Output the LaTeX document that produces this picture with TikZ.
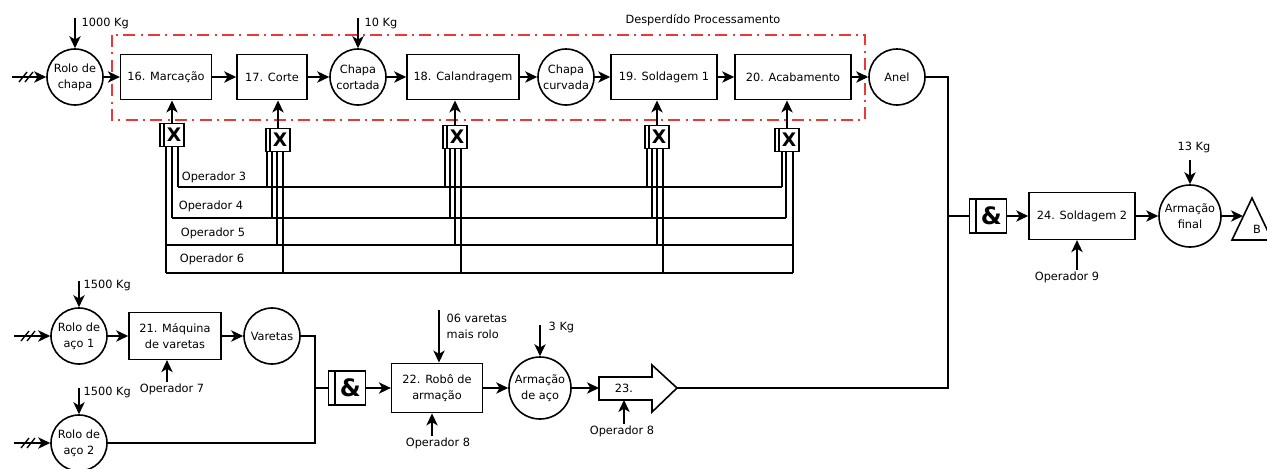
\documentclass[tikz,border=0pt]{standalone}
\usepackage{fontspec}
\setmainfont{DejaVu Sans}
\usetikzlibrary{arrows.meta}
\definecolor{wastered}{RGB}{232,56,56}

\begin{document}
\begin{tikzpicture}[x=0.75pt,y=-0.75pt,
  every node/.style={font=\fontsize{8.5}{12}\selectfont},
  proc/.style={draw,line width=1.2pt,minimum height=34pt,inner sep=1pt,align=center},
  stock/.style={draw,circle,line width=1.2pt,minimum size=42pt,inner sep=0.5pt,align=center},
  flow/.style={line width=1.1pt,-{Stealth[length=9pt,width=8.5pt,inset=2.5pt]}},
  wire/.style={line width=1pt},
  oplabel/.style={inner sep=1pt},
  hub/.style={draw,line width=1.1pt,minimum width=18pt,minimum height=17pt,inner sep=0pt,
    font=\bfseries\fontsize{14}{14}\selectfont,
    path picture={\draw[line width=0.9pt] ([xshift=3pt]path picture bounding box.north west)
      -- ([xshift=3pt]path picture bounding box.south west);}},
  gate/.style={draw,line width=1.1pt,minimum width=28pt,minimum height=25.5pt,inner sep=0pt,
    font=\bfseries\fontsize{18}{18}\selectfont,
    path picture={\draw[line width=0.9pt] ([xshift=5pt]path picture bounding box.north west)
      -- ([xshift=5pt]path picture bounding box.south west);}},
  waste/.style={draw=wastered,line width=1.1pt,dash pattern=on 9pt off 4pt on 1.5pt off 4pt}]
  \useasboundingbox (0,0) rectangle (1267,468);

  % linha da chapa
  \node[stock] (rolochapa) at (75,77) {Rolo de\\chapa};
  \node[proc,minimum width=68pt] (m16) at (166,77) {16. Marcação};
  \node[proc,minimum width=52.5pt] (c17) at (272,77) {17. Corte};
  \node[stock] (cortada) at (358,77) {Chapa\\cortada};
  \node[proc,minimum width=84pt] (cal18) at (463,77) {18. Calandragem};
  \node[stock] (curvada) at (566,77) {Chapa\\curvada};
  \node[proc,minimum width=79.5pt] (sold19) at (664,77) {19. Soldagem 1};
  \node[proc,minimum width=87pt] (acab20) at (793,77) {20. Acabamento};
  \node[stock] (anel) at (897,77) {Anel};

  \draw[waste] (112,35) rectangle (865,120);
  \node (wastelabel) at (703,20) {Desperdído Processamento};

  \coordinate (src1) at (12,77);
  \draw[flow] (src1) -- (rolochapa);
  \draw[wire] (19,82) -- (27,72) (25,82) -- (33,72);
  \node[anchor=west] (kg1000) at (77,23) {1000 Kg};
  \coordinate (t1000) at (75,18);
  \draw[flow] (t1000) -- (rolochapa);
  \node[anchor=west] (kg10) at (360,23) {10 Kg};
  \coordinate (t10) at (358,18);
  \draw[flow] (t10) -- (cortada);

  \draw[flow] (rolochapa) -- (m16);
  \draw[flow] (m16) -- (c17);
  \draw[flow] (c17) -- (cortada);
  \draw[flow] (cortada) -- (cal18);
  \draw[flow] (cal18) -- (curvada);
  \draw[flow] (curvada) -- (sold19);
  \draw[flow] (sold19) -- (acab20);
  \draw[flow] (acab20) -- (anel);

  % operadores
  \node[hub] (x16) at (172,135) {\hspace{3pt}X};
  \node[hub] (x17) at (278,140) {\hspace{3pt}X};
  \node[hub] (x18) at (455,137) {\hspace{3pt}X};
  \node[hub] (x19) at (657,137) {\hspace{3pt}X};
  \node[hub] (x20) at (787,140) {\hspace{3pt}X};
  \draw[flow] (x16) -- (x16 |- m16.south);
  \draw[flow] (x17) -- (x17 |- c17.south);
  \draw[flow] (x18) -- (x18 |- cal18.south);
  \draw[flow] (x19) -- (x19 |- sold19.south);
  \draw[flow] (x20) -- (x20 |- acab20.south);

  \node (op3) at (214,177) {Operador 3};
  \node (op4) at (211,206) {Operador 4};
  \node (op5) at (213,233) {Operador 5};
  \node (op6) at (212,259) {Operador 6};
  \draw[wire] (178,187) -- (782,187) (172,218) -- (786,218)
    (166,245) -- (793,245) (166,273) -- (793,273);
  \draw[wire] (166,0 |- x16.south) -- (166,273) (172,0 |- x16.south) -- (172,218)
    (178,0 |- x16.south) -- (178,187);
  \draw[wire] (267,0 |- x17.south) -- (267,187) (272,0 |- x17.south) -- (272,218)
    (277,0 |- x17.south) -- (277,245) (283,0 |- x17.south) -- (283,273);
  \draw[wire] (445,0 |- x18.south) -- (445,187) (450,0 |- x18.south) -- (450,218)
    (455,0 |- x18.south) -- (455,245) (461,0 |- x18.south) -- (461,273);
  \draw[wire] (647,0 |- x19.south) -- (647,187) (652,0 |- x19.south) -- (652,218)
    (657,0 |- x19.south) -- (657,245) (663,0 |- x19.south) -- (663,273);
  \draw[wire] (782,0 |- x20.south) -- (782,187) (786,0 |- x20.south) -- (786,218)
    (793,0 |- x20.south) -- (793,273);

  % montagem final
  \coordinate (j1) at (948,216);
  \node[gate] (and2) at (988,216) {\hspace{5pt}\&};
  \node[proc,minimum width=79.5pt,minimum height=35pt] (sold24) at (1082,216) {24. Soldagem 2};
  \node[stock,minimum size=46.5pt] (final) at (1190,216) {Armação\\final};
  \draw[line width=1.2pt] (1232,240) -- (1252,198) -- (1272,240) -- cycle;
  \node (bstock) at (1257,229) {B};
  \coordinate (btri) at (1243,216);
  \node (kg13) at (1194,147) {13 Kg};
  \coordinate (t13) at (1190,160);
  \draw[flow] (t13) -- (final);
  \node[oplabel] (op9) at (1067,277) {Operador 9};
  \draw[flow] (1077,0 |- op9.north) -- (1077,0 |- sold24.south);
  \draw[wire] (j1) -- (and2);
  \draw[flow] (and2) -- (sold24);
  \draw[flow] (sold24) -- (final);
  \draw[flow] (final) -- (btri);

  % linha das varetas
  \node[stock] (roloaco1) at (79,336) {Rolo de\\aço 1};
  \node[proc,minimum width=69pt,minimum height=35pt] (maq21) at (175,336) {21. Máquina\\de varetas};
  \node[stock] (varetas) at (272,336) {Varetas};
  \node[stock] (roloaco2) at (79,443) {Rolo de\\aço 2};
  \coordinate (j2) at (315,388);
  \node[gate] (and1) at (347,388) {\hspace{5pt}\&};
  \node[proc,minimum width=68pt,minimum height=37pt] (robo22) at (437,388) {22. Robô de\\armação};
  \node[stock,minimum size=46.5pt] (armaco) at (540,388) {Armação\\de aço};
  \draw[line width=1.2pt] (599,377) -- (652,377) -- (652,365) -- (677,388)
    -- (652,412) -- (652,400) -- (599,400) -- cycle;
  \node (s23) at (624,388) {23.};
  \coordinate (s23in) at (599,388);
  \coordinate (s23tip) at (677,388);
  \coordinate (s23low) at (624,400);

  \coordinate (src2) at (14,336);
  \draw[flow] (src2) -- (roloaco1);
  \draw[wire] (21,341) -- (29,331) (27,341) -- (35,331);
  \coordinate (src3) at (14,443);
  \draw[flow] (src3) -- (roloaco2);
  \draw[wire] (21,448) -- (29,438) (27,448) -- (35,438);
  \node[anchor=west] (kg1500a) at (79,285) {1500 Kg};
  \coordinate (t1500a) at (79,281);
  \draw[flow] (t1500a) -- (roloaco1);
  \node[anchor=west] (kg1500b) at (79,392) {1500 Kg};
  \coordinate (t1500b) at (79,388);
  \draw[flow] (t1500b) -- (roloaco2);
  \node[anchor=north west,align=left] (vin) at (442,309) {06 varetas\\mais rolo};
  \coordinate (t06) at (439,310);
  \draw[flow] (t06) -- (t06 |- robo22.north);
  \node[anchor=west] (kg3) at (544,327) {3 Kg};
  \coordinate (t3) at (540,325);
  \draw[flow] (t3) -- (armaco);

  \node[oplabel] (op7) at (172,389) {Operador 7};
  \draw[flow] (167,0 |- op7.north) -- (167,0 |- maq21.south);
  \node[oplabel] (op8a) at (438,443) {Operador 8};
  \draw[flow] (432,0 |- op8a.north) -- (432,0 |- robo22.south);
  \node[oplabel] (op8b) at (622,431) {Operador 8};
  \draw[flow] (624,0 |- op8b.north) -- (s23low);

  \draw[flow] (roloaco1) -- (maq21);
  \draw[flow] (maq21) -- (varetas);
  \draw[wire] (varetas.east) -| (j2) |- (roloaco2.east);
  \draw[wire] (j2) -- (and1);
  \draw[flow] (and1) -- (robo22);
  \draw[flow] (robo22) -- (armaco);
  \draw[flow] (armaco) -- (s23in);
  \draw[wire] (anel.east) -| (j1) |- (s23tip);
\end{tikzpicture}
\end{document}
